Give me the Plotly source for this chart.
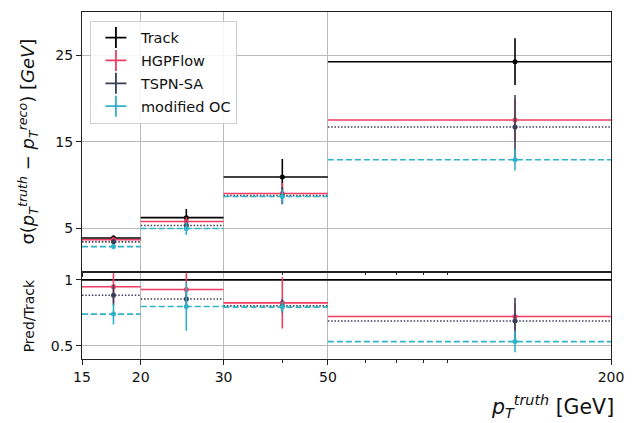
import numpy as np
import plotly.graph_objects as go

# Binning in truth pT [GeV]
bin_edges = [15, 20, 30, 50, 200]
bin_centers = [17.5, 25, 40, 125]

# Resolution sigma(pT_truth - pT_reco) [GeV] per bin, with uncertainties
track = [3.85, 6.2, 10.9, 24.25]
track_err = [0.3, 1.0, 2.1, 2.7]
hgpflow = [3.65, 5.75, 9.0, 17.5]
hgpflow_err = [0.3, 0.5, 1.2, 2.4]
tspn_sa = [3.4, 5.3, 8.75, 16.7]
tspn_sa_err = [0.3, 0.5, 1.0, 3.7]
mod_oc = [2.85, 4.95, 8.65, 12.9]
mod_oc_err = [0.3, 0.75, 0.8, 1.25]

# Uncertainties on the ratio to Track
hgpflow_ratio_err = [0.12, 0.14, 0.195, 0.10]
tspn_sa_ratio_err = [0.08, 0.06, 0.05, 0.175]
mod_oc_ratio_err = [0.078, 0.185, 0.04, 0.08]

ytick_top = [5, 15, 25]
ytick_bottom = [0.5, 1]
xtick_vals = [15, 20, 30, 50, 200]
xtick_minor = [40, 60, 70, 80, 90]

BLACK = "#000000"
RED = "#f03c61"
DARK = "#3b3e58"
CYAN = "#2fb2c7"
FONT = "DejaVu Sans"


def steps(values):
    xs, ys = [], []
    for lo, hi, v in zip(bin_edges[:-1], bin_edges[1:], values):
        xs += [lo, hi, None]
        ys += [v, v, None]
    return xs, ys


series = [
    ("Track", track, track_err, None, BLACK, "solid"),
    ("HGPFlow", hgpflow, hgpflow_err, hgpflow_ratio_err, RED, "solid"),
    ("TSPN-SA", tspn_sa, tspn_sa_err, tspn_sa_ratio_err, DARK, "1.5px,1.8px"),
    ("modified OC", mod_oc, mod_oc_err, mod_oc_ratio_err, CYAN, "6px,3px"),
]

fig = go.Figure()

for name, vals, errs, rerrs, color, dash in series:
    ratio = [v / t for v, t in zip(vals, track)]
    # upper panel: bin-wide horizontal bars + central points with error bars
    sx, sy = steps(vals)
    fig.add_trace(go.Scatter(x=sx, y=sy, mode="lines", xaxis="x", yaxis="y",
                             line=dict(color=color, width=1.6, dash=dash),
                             showlegend=False, hoverinfo="skip"))
    fig.add_trace(go.Scatter(x=bin_centers, y=vals, mode="markers", xaxis="x", yaxis="y",
                             marker=dict(color=color, size=5),
                             error_y=dict(type="data", array=errs, color=color,
                                          thickness=1.6, width=0),
                             showlegend=False))
    # lower panel: ratio to Track
    rx, ry = steps(ratio)
    fig.add_trace(go.Scatter(x=rx, y=ry, mode="lines", xaxis="x2", yaxis="y2",
                             line=dict(color=color, width=1.6, dash=dash),
                             showlegend=False, hoverinfo="skip"))
    if rerrs is not None:
        fig.add_trace(go.Scatter(x=bin_centers, y=ratio, mode="markers", xaxis="x2", yaxis="y2",
                                 marker=dict(color=color, size=5),
                                 error_y=dict(type="data", array=rerrs, color=color,
                                              thickness=1.6, width=0),
                                 showlegend=False))
    # legend entry
    fig.add_trace(go.Scatter(x=[None], y=[None], mode="markers", name=name,
                             xaxis="x", yaxis="y", legendgroup=name,
                             marker=dict(symbol="cross-thin", size=15, color=color,
                                         line=dict(color=color, width=1.8))))

xaxis_common = dict(
    type="log", range=[np.log10(bin_edges[0]), np.log10(bin_edges[-1])],
    tickvals=xtick_vals, ticktext=[str(v) for v in xtick_vals],
    showgrid=True, gridcolor="#b9b9b9", gridwidth=1,
    showline=True, linecolor="#222222", linewidth=1.2, mirror=True,
    ticks="outside", ticklen=5, tickcolor="#222222",
    minor=dict(tickvals=xtick_minor, ticks="outside", ticklen=3,
               tickcolor="#222222", showgrid=False),
    zeroline=False,
)

fig.update_layout(
    width=635, height=423,
    margin=dict(l=82, r=18, t=11, b=64),
    paper_bgcolor="white", plot_bgcolor="white",
    font=dict(family=FONT, size=14, color="#111111"),
    xaxis=dict(xaxis_common, domain=[0, 1], anchor="y", showticklabels=False),
    xaxis2=dict(xaxis_common, domain=[0, 1], anchor="y2", matches="x",
                tickfont=dict(size=14)),
    yaxis=dict(domain=[0.2529, 1], range=[0, 30], tickvals=ytick_top,
               showgrid=True, gridcolor="#b9b9b9", gridwidth=1,
               showline=True, linecolor="#222222", linewidth=1.2, mirror=True,
               ticks="outside", ticklen=5, tickcolor="#222222", zeroline=False,
               tickfont=dict(size=14),
               title=dict(text="σ(<i>p</i><sub><i>T</i></sub><sup><i>truth</i></sup> − "
                               "<i>p</i><sub><i>T</i></sub><sup><i>reco</i></sup>) [<i>GeV</i>]",
                          font=dict(size=18), standoff=15)),
    yaxis2=dict(domain=[0, 0.2471], range=[0.4, 1.05], tickvals=ytick_bottom,
                ticktext=["0.5", "1"],
                showgrid=True, gridcolor="#b9b9b9", gridwidth=1,
                showline=True, linecolor="#222222", linewidth=1.2, mirror=True,
                ticks="outside", ticklen=5, tickcolor="#222222", zeroline=False,
                tickfont=dict(size=14),
                title=dict(text="Pred/Track", font=dict(size=14), standoff=12)),
    legend=dict(x=0.015, y=0.975, xanchor="left", yanchor="top",
                bgcolor="rgba(255,255,255,0.85)", bordercolor="#cfcfcf", borderwidth=1,
                font=dict(size=14.5, color="#111111"), tracegroupgap=1,
                itemwidth=40),
    annotations=[dict(
        text="<i>p</i><sub><i>T</i></sub><sup><i>truth</i></sup> [GeV]",
        xref="paper", yref="paper", x=1.01, y=-0.185, xanchor="right", yanchor="bottom",
        showarrow=False, font=dict(size=20.5, color="#111111"))],
)

fig.write_html("out.html")
